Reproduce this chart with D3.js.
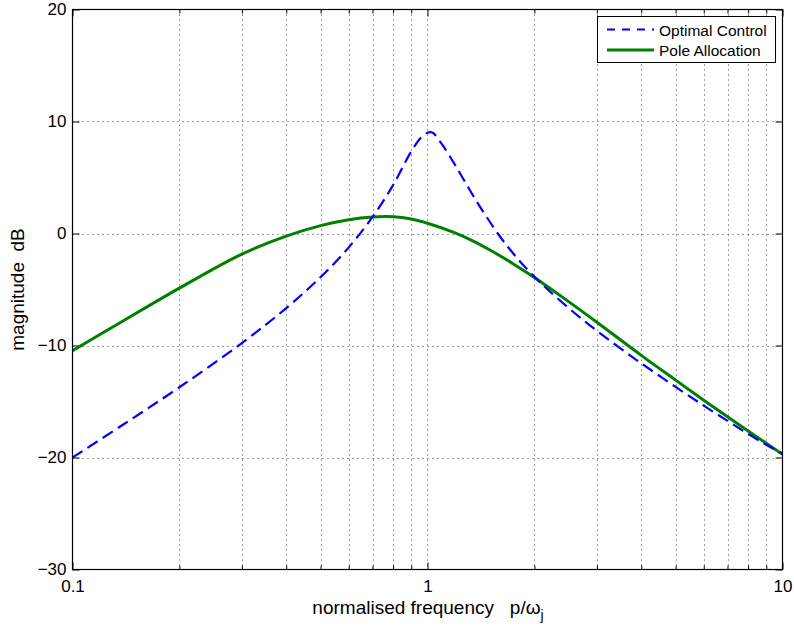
<!DOCTYPE html>
<html>
<head>
<meta charset="utf-8">
<script src="https://cdn.jsdelivr.net/npm/d3@7"></script>
<style>
  html, body { margin: 0; padding: 0; background: #fff; }
  svg { display: block; }
  text { font-family: "Liberation Sans", Arial, Helvetica, sans-serif; fill: #000; }
</style>
</head>
<body>
<svg id="chart" width="794" height="628"></svg>
<script>
// Frequency response: magnitude (dB) against normalised frequency p/ω_j
const freqOptimal = [0.1, 0.138, 0.2, 0.3, 0.4, 0.5, 0.6, 0.7, 0.8, 0.9, 0.955, 0.98, 1.0, 1.02, 1.04, 1.068, 1.107, 1.186, 1.27, 1.39, 1.585, 1.71, 1.83, 2, 2.2, 2.58, 3, 3.71, 4, 5, 6, 7, 8, 9, 10];
const magOptimal  = [-20.0, -17.12, -13.73, -9.78, -6.66, -3.89, -1.24, 1.48, 4.32, 7.33, 8.5, 8.8, 9.0, 9.05, 8.95, 8.5, 7.82, 6.31, 4.71, 2.63, -0.09, -1.45, -2.56, -3.85, -5.11, -7.03, -8.69, -10.86, -11.59, -13.7, -15.37, -16.73, -17.89, -18.86, -19.65];

const freqPole = [0.1, 0.138, 0.2, 0.3, 0.4, 0.5, 0.6, 0.7, 0.8, 0.9, 1, 1.186, 1.35, 1.53, 1.75, 2, 2.42, 3, 4, 5, 6, 7, 8, 9, 10];
const magPole  = [-10.46, -7.86, -4.88, -1.84, -0.24, 0.7, 1.23, 1.47, 1.49, 1.29, 0.92, 0.1, -0.7, -1.63, -2.74, -3.93, -5.77, -7.92, -10.88, -13.09, -14.88, -16.36, -17.63, -18.73, -19.71];

const seriesNames  = ["Optimal Control", "Pole Allocation"];
const seriesColors = ["#0000ff", "#008000"];

const xMajorTicks = [0.1, 1, 10];
const xMinorTicks = [0.2, 0.3, 0.4, 0.5, 0.6, 0.7, 0.8, 0.9, 2, 3, 4, 5, 6, 7, 8, 9];
const yTicks = [-30, -20, -10, 0, 10, 20];

const svg = d3.select("#chart");
const plotLeft = 72.5, plotRight = 782.5, plotTop = 9.5, plotBottom = 569.5;

const x = d3.scaleLog().domain([0.1, 10]).range([plotLeft, plotRight]);
const y = d3.scaleLinear().domain([-30, 20]).range([plotBottom, plotTop]);

svg.append("rect").attr("width", 794).attr("height", 628).attr("fill", "#fff");

// dotted grid
const grid = svg.append("g").attr("stroke", "#000").attr("stroke-width", 1)
  .attr("stroke-dasharray", "1,4").attr("opacity", 0.75);
grid.selectAll("line.vx").data(xMinorTicks.concat([1])).join("line")
  .attr("x1", d => Math.round(x(d)) + 0.5).attr("x2", d => Math.round(x(d)) + 0.5)
  .attr("y1", plotTop).attr("y2", plotBottom);
grid.selectAll("line.hy").data(yTicks.filter(d => d > -30 && d < 20)).join("line")
  .attr("x1", plotLeft).attr("x2", plotRight)
  .attr("y1", d => Math.round(y(d)) + 0.5).attr("y2", d => Math.round(y(d)) + 0.5);

// axes (ticks pointing inward)
function styleAxis(g) {
  g.select(".domain").remove();
  g.selectAll(".tick line").attr("stroke", "#000");
  g.selectAll(".tick text").attr("font-size", 17).attr("fill", "#000")
    .attr("font-family", "'Liberation Sans', Arial, Helvetica, sans-serif");
}
svg.append("g").attr("transform", `translate(0,${plotBottom})`)
  .call(d3.axisBottom(x).tickValues(xMajorTicks).tickSize(-7).tickPadding(10).tickFormat(d3.format("")))
  .call(styleAxis);
svg.append("g").attr("transform", `translate(0,${plotBottom})`)
  .call(d3.axisBottom(x).tickValues(xMinorTicks).tickSize(-4).tickFormat(""))
  .call(styleAxis);
svg.append("g").attr("transform", `translate(0,${plotTop})`)
  .call(d3.axisTop(x).tickValues(xMajorTicks).tickSize(-7).tickFormat(""))
  .call(styleAxis);
svg.append("g").attr("transform", `translate(0,${plotTop})`)
  .call(d3.axisTop(x).tickValues(xMinorTicks).tickSize(-4).tickFormat(""))
  .call(styleAxis);
svg.append("g").attr("transform", `translate(${plotLeft},0)`)
  .call(d3.axisLeft(y).tickValues(yTicks).tickSize(-7).tickPadding(6))
  .call(styleAxis);
svg.append("g").attr("transform", `translate(${plotRight},0)`)
  .call(d3.axisRight(y).tickValues(yTicks).tickSize(-7).tickFormat(""))
  .call(styleAxis);

// curves
svg.append("clipPath").attr("id", "plotclip")
  .append("rect").attr("x", plotLeft).attr("y", plotTop)
  .attr("width", plotRight - plotLeft).attr("height", plotBottom - plotTop);

const line = d3.line().x(d => x(d[0])).y(d => y(d[1])).curve(d3.curveCatmullRom.alpha(0.5));
const plot = svg.append("g").attr("clip-path", "url(#plotclip)");

plot.append("path")
  .datum(d3.zip(freqPole, magPole))
  .attr("d", line).attr("fill", "none")
  .attr("stroke", seriesColors[1]).attr("stroke-width", 3);

plot.append("path")
  .datum(d3.zip(freqOptimal, magOptimal))
  .attr("d", line).attr("fill", "none")
  .attr("stroke", seriesColors[0]).attr("stroke-width", 2.2)
  .attr("stroke-dasharray", "12,6");

// frame
svg.append("rect").attr("x", plotLeft).attr("y", plotTop)
  .attr("width", plotRight - plotLeft).attr("height", plotBottom - plotTop)
  .attr("fill", "none").attr("stroke", "#000").attr("stroke-width", 1.2);

// axis labels
const xl = svg.append("text").attr("x", 428).attr("y", 614)
  .attr("text-anchor", "middle").attr("font-size", 19).style("white-space", "pre");
xl.append("tspan").text("normalised frequency   p/\u03c9");
xl.append("tspan").attr("font-size", 14).attr("dy", 6).text("j");

svg.append("text")
  .attr("transform", `translate(24,${(plotTop + plotBottom) / 2}) rotate(-90)`)
  .attr("text-anchor", "middle").attr("font-size", 19).style("white-space", "pre")
  .text("magnitude  dB");

// legend
const lg = svg.append("g");
lg.append("rect").attr("x", 597.5).attr("y", 16.5).attr("width", 178).attr("height", 46)
  .attr("fill", "#fff").attr("stroke", "#000").attr("stroke-width", 1);
const rows = [
  { name: seriesNames[0], color: seriesColors[0], dash: "8,7", w: 2.2, y: 29.5 },
  { name: seriesNames[1], color: seriesColors[1], dash: null, w: 3, y: 50 }
];
rows.forEach(r => {
  lg.append("line").attr("x1", 607).attr("x2", 654).attr("y1", r.y).attr("y2", r.y)
    .attr("stroke", r.color).attr("stroke-width", r.w)
    .attr("stroke-dasharray", r.dash);
  lg.append("text").attr("x", 659).attr("y", r.y + 6).attr("font-size", 15.5).text(r.name);
});
</script>
</body>
</html>
